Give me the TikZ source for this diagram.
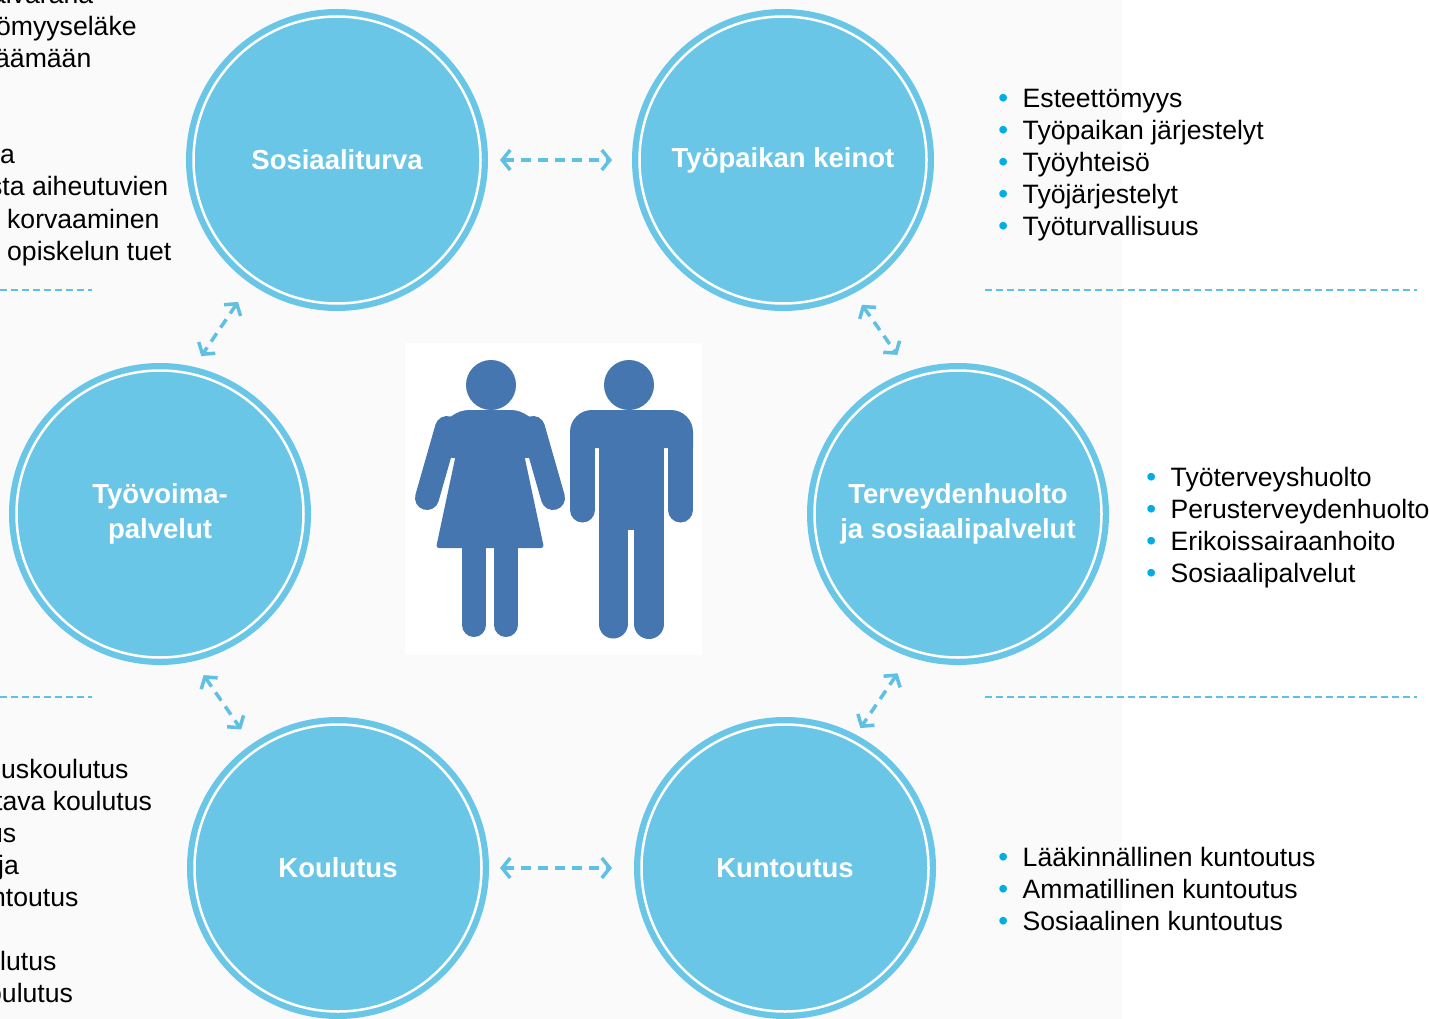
\documentclass[tikz,border=0pt]{standalone}
\usepackage{fontspec}
\setmainfont{Liberation Sans}
\usetikzlibrary{arrows.meta}
\definecolor{circblue}{RGB}{106,198,230}
\definecolor{arrowblue}{RGB}{96,192,228}
\definecolor{dotblue}{RGB}{0,174,226}
\definecolor{figblue}{RGB}{70,118,175}
\definecolor{bggray}{RGB}{250,250,250}
\newcommand\blt{\makebox[0pt]{\fontsize{28}{28}\selectfont\color{dotblue}\textbullet}\hspace{19.5pt}}
\begin{document}
\begin{tikzpicture}[x=1pt,y=-1pt,
        circ/.style={circle,fill=circblue,draw=white,line width=2.5pt,
                preaction={draw=circblue,line width=15pt},
                minimum size=287pt,inner sep=0pt,outer sep=7.5pt,
                text=white,align=center,font=\fontsize{27.5}{35}\selectfont\bfseries},
        link/.style={draw=arrowblue,line width=3.5pt,dash pattern=on 10pt off 7pt,
                {Straight Barb[length=8pt,width=20pt]}-{Straight Barb[length=8pt,width=20pt]}},
        item/.style={anchor=base west,inner sep=0pt,font=\fontsize{26.6}{32}\selectfont},
        sep/.style={draw=arrowblue,line width=2pt,dash pattern=on 7pt off 4pt}]
        \useasboundingbox (0,0) rectangle (1429,1019);
        \fill[bggray] (0,0) rectangle (1122,1019);
        \fill[white] (405,343) rectangle (702,655);

        \path[sep] (0,290) -- (92,290);
        \path[sep] (985,290) -- (1417,290);
        \path[sep] (0,697) -- (92,697);
        \path[sep] (985,697) -- (1417,697);

        \begin{scope}[figblue,fill=figblue]
            \fill (491,385) circle (25);
            \fill[rounded corners=22pt] (432,458) -- (447,410) -- (533,410) -- (548,458) -- cycle;
            \draw[line width=24pt,line cap=round] (447,428) -- (427,498);
            \draw[line width=24pt,line cap=round] (533,428) -- (553,498);
            \fill[rounded corners=3pt] (459,440) -- (521,440) -- (544,548) -- (436,548) -- cycle;
            \draw[line width=24pt,line cap=round] (474,540) -- (474,625);
            \draw[line width=24pt,line cap=round] (506,540) -- (506,625);

            \fill (629,385) circle (25);
            \fill (570,448) [rounded corners=22pt] -- (570,410) -- (693,410) [sharp corners] -- (693,448) -- cycle;
            \draw[line width=25pt,line cap=round] (582.5,440) -- (582.5,510);
            \draw[line width=25pt,line cap=round] (680.5,440) -- (680.5,510);
            \fill (599,430) rectangle (664,530);
            \draw[line width=29pt,line cap=round] (613,530) -- (613,624);
            \draw[line width=30pt,line cap=round] (649,530) -- (649,624);
        \end{scope}

        \begin{scope}[every node/.style={circ}]
            \node (sos) at (337,160) {Sosiaaliturva};
            \node (tpk) at (783,160) {Työpaikan keinot};
            \node (ter) at (958,514) {Terveydenhuolto\\ja sosiaalipalvelut};
            \node (kun) at (785,868) {Kuntoutus};
            \node (kou) at (338,868) {Koulutus};
            \node (tyv) at (160,514) {Työvoima-\\palvelut};
        \end{scope}

        \path[link,shorten <=12pt,shorten >=20pt] (sos) -- (tpk);
        \path[link,shorten <=11pt,shorten >=22pt] (kou) -- (kun);
        \path[link,shorten <=22pt,shorten >=13pt] (sos.235) -- (tyv.77);
        \path[link,shorten <=14pt,shorten >=20pt] (tpk.298) -- (ter.109);
        \path[link,shorten <=17pt,shorten >=18pt] (tyv.283) -- (kou.125);
        \path[link,shorten <=20pt,shorten >=8pt] (ter.251) -- (kun.62);

        \foreach \t [count=\i from 0] in {Esteettömyys,Työpaikan järjestelyt,Työyhteisö,Työjärjestelyt,Työturvallisuus}
            \node[item] (tp\i) at (1003,108+32*\i) {\blt\t};
        \foreach \t [count=\i from 0] in {Työterveyshuolto,Perusterveydenhuolto,Erikoissairaanhoito,Sosiaalipalvelut}
            \node[item] (th\i) at (1151,486+32*\i) {\blt\t};
        \foreach \t [count=\i from 0] in {Lääkinnällinen kuntoutus,Ammatillinen kuntoutus,Sosiaalinen kuntoutus}
            \node[item] (ku\i) at (1003,866+32*\i) {\blt\t};

        \foreach \x/\y/\t [count=\i] in {-9/4/alvarana,-4/36/ömyyseläke,-5/68/äämään,0/164/a,
                -11/196/sta aiheutuvien,7/228/korvaaminen,7/260/opiskelun tuet}
            \node[item] (so\i) at (\x,\y) {\t};
        \foreach \x/\y/\t [count=\i] in {1/778/uskoulutus,-5/810/tava koulutus,-12/842/us,-2/874/ja,
                -9/906/ntoutus,0/970/lutus,-13/1002/oulutus}
            \node[item] (ko\i) at (\x,\y) {\t};
\end{tikzpicture}
\end{document}
